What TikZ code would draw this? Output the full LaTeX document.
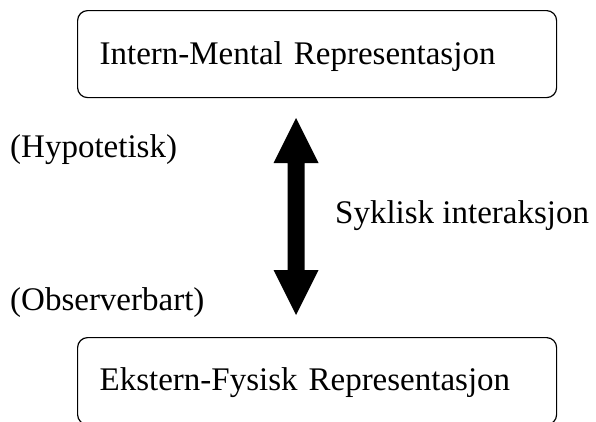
\documentclass[tikz,border=0pt]{standalone}
\usepackage{fontspec}
\setmainfont{Liberation Serif}
\begin{document}
\begin{tikzpicture}[x=1pt,y=-1pt,
  every node/.style={font=\fontsize{33}{38}\selectfont, text=black},
  repbox/.style={draw=black, line width=1.2pt, rounded corners=10pt,
    minimum width=479pt, minimum height=87pt, text width=435pt,
    inner xsep=22pt, inner ysep=0pt, align=left, text height=22pt},
  sidetext/.style={anchor=base west, inner sep=0pt}
]
\useasboundingbox (0,0) rectangle (596,421);
\begin{scope}
\clip (0,0) rectangle (596,421);
% the two representation boxes
\node[repbox, text depth=1pt, anchor=north west] (intern) at (77,10) {Intern-Mental Representasjon};
\node[repbox, text depth=3pt, anchor=north west] (ekstern) at (77,337) {Ekstern-Fysisk Representasjon};
\end{scope}

% side labels
\node[sidetext] (hyp) at (10,157) {(Hypotetisk)};
\node[sidetext] (obs) at (10,310) {(Observerbart)};
\node[sidetext] (syk) at (335,223) {Syklisk interaksjon};

% double-headed arrow between the levels
\coordinate (top) at (296,118);
\coordinate (bot) at (296,315);
\fill[black] (top) -- ++(22.5,45) -- ++(-14,0) -- ++(0,107) -- ++(14,0)
  -- (bot) -- ++(-22.5,-45) -- ++(14,0) -- ++(0,-107) -- ++(-14,0) -- cycle;
\end{tikzpicture}
\end{document}
